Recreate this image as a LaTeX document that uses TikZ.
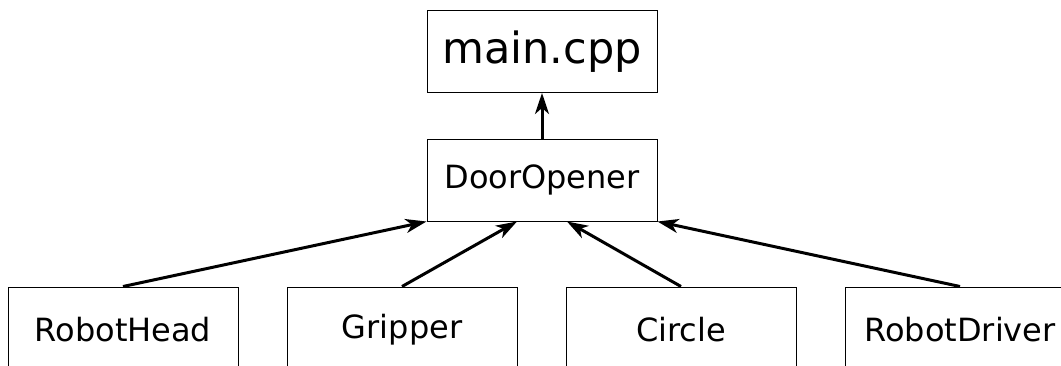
\documentclass[tikz,border=0pt]{standalone}
\usepackage{fontspec}
\setmainfont{DejaVu Sans}
\usetikzlibrary{arrows.meta,calc}
\begin{document}
\begin{tikzpicture}[x=1pt,y=-1pt,
  box/.style={draw, line width=1pt, minimum width=230pt, minimum height=82pt,
    inner sep=0pt, font=\fontsize{32}{38}\selectfont},
  bigbox/.style={box, font=\fontsize{43}{50}\selectfont},
  lowbox/.style={box, minimum height=86pt},
  arr/.style={line width=3pt, -{Stealth[length=21pt,width=14pt,inset=6pt]}}]
  \clip (0,0) rectangle (1061,365);
  % top-level program and the class it uses
  \node[bigbox] (main) at (542,51.5) {main.cpp};
  \node[box] (door) at (542,180) {DoorOpener};
  % component classes (cut by the lower edge)
  \node[lowbox] (head) at (123,330) {RobotHead};
  \node[lowbox] (grip) at (402,330) {Gripper};
  \node[lowbox] (circ) at (681,330) {Circle};
  \node[lowbox] (drv)  at (960,330) {RobotDriver};
  % dependency arrows
  \coordinate (dgl) at ($(door.south)+(-25,0)$);
  \coordinate (dgr) at ($(door.south)+(25,0)$);
  \draw[arr] (door.north) -- (main.south);
  \draw[arr] (head.north) -- (door.south west);
  \draw[arr] (grip.north) -- (dgl);
  \draw[arr] (circ.north) -- (dgr);
  \draw[arr] (drv.north) -- (door.south east);
\end{tikzpicture}
\end{document}
